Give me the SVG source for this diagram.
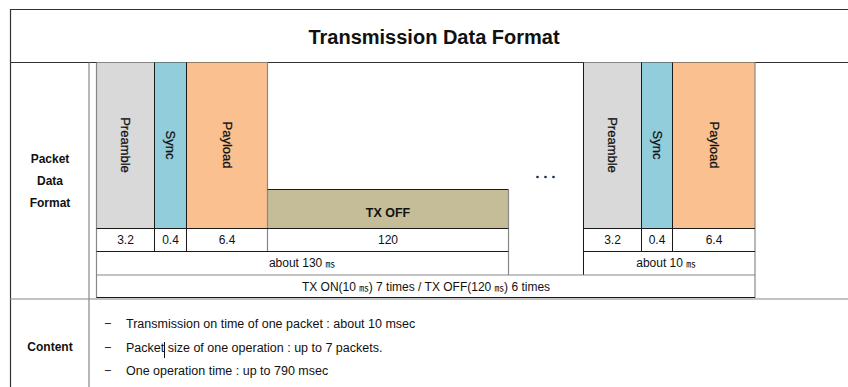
<svg xmlns="http://www.w3.org/2000/svg" width="848" height="387" viewBox="0 0 848 387">
  <style>
    text { font-family: "Liberation Sans", Arial, "Noto Sans CJK KR", sans-serif; fill: #111; }
    .title { font-size: 20px; font-weight: bold; text-anchor: middle; }
    .head { font-size: 12px; font-weight: bold; text-anchor: middle; }
    .lbl { font-size: 13px; text-anchor: middle; dominant-baseline: central; stroke: #111; stroke-width: 0.25; }
    .num { font-size: 12px; text-anchor: middle; }
    .body { font-size: 12.5px; }
    .ms { font-family: "Noto Sans CJK KR", sans-serif; font-size: 9.5px; }
    .frame { stroke: #333; stroke-width: 1.2; fill: none; }
    .grid { stroke: #888; stroke-width: 1.2; fill: none; }
    .edge { stroke: #1a1a1a; stroke-width: 1; fill: none; }
    .pre { fill: #d9d9d9; }
    .sync { fill: #92cddc; }
    .pay { fill: #fac090; }
    .off { fill: #c4bd97; }
  </style>

  <!-- outer table frame -->
  <g id="table-frame">
    <line class="frame" x1="10" y1="9.5" x2="848" y2="9.5"/>
    <line class="frame" x1="10.5" y1="9" x2="10.5" y2="387"/>
    <line class="frame" x1="10" y1="62.5" x2="848" y2="62.5"/>
    <line class="grid" x1="89" y1="62.5" x2="89" y2="387"/>
    <line class="grid" x1="10" y1="299" x2="848" y2="299"/>
  </g>

  <g id="title">
    <text class="title" x="434" y="44">Transmission Data Format</text>
  </g>

  <g id="row-head-packet">
    <text class="head" x="50" y="163">Packet</text>
    <text class="head" x="50" y="185">Data</text>
    <text class="head" x="50" y="207">Format</text>
  </g>

  <!-- first packet -->
  <g id="packet-1">
    <rect class="pre" x="97" y="62.5" width="57.5" height="166"/>
    <rect class="sync" x="154.5" y="62.5" width="32" height="166"/>
    <rect class="pay" x="186.5" y="62.5" width="81" height="166"/>
    <text class="lbl" transform="translate(125.5,145) rotate(90)">Preamble</text>
    <text class="lbl" transform="translate(170.5,145) rotate(90)">Sync</text>
    <text class="lbl" transform="translate(227,145) rotate(90)">Payload</text>
  </g>

  <g id="tx-off">
    <rect class="off" x="267.5" y="189.5" width="241" height="39"/>
    <text class="head" x="388" y="216.5" style="font-size:12.5px">TX OFF</text>
  </g>

  <!-- repeated packet -->
  <g id="packet-n">
    <rect class="pre" x="583.5" y="62.5" width="58" height="166"/>
    <rect class="sync" x="641.5" y="62.5" width="31" height="166"/>
    <rect class="pay" x="672.5" y="62.5" width="82.5" height="166"/>
    <text class="lbl" transform="translate(612.5,145) rotate(90)">Preamble</text>
    <text class="lbl" transform="translate(657,145) rotate(90)">Sync</text>
    <text class="lbl" transform="translate(714,145) rotate(90)">Payload</text>
  </g>

  <g id="ellipsis">
    <circle cx="537.5" cy="177" r="1.3" fill="#1a2a4a"/>
    <circle cx="545.5" cy="177" r="1.3" fill="#1a2a4a"/>
    <circle cx="553.5" cy="177" r="1.3" fill="#1a2a4a"/>
  </g>

  <!-- cell borders of the timing table -->
  <g id="connectors">
    <line class="grid" x1="96.5" y1="62.5" x2="96.5" y2="298"/>
    <line class="edge" x1="154.5" y1="62.5" x2="154.5" y2="251.5"/>
    <line class="edge" x1="186.5" y1="62.5" x2="186.5" y2="251.5"/>
    <line class="grid" x1="267.5" y1="62.5" x2="267.5" y2="251.5"/>
    <line class="edge" x1="267.5" y1="189.5" x2="508.5" y2="189.5"/>
    <line class="grid" x1="508.5" y1="189.5" x2="508.5" y2="275"/>
    <line class="edge" x1="96.5" y1="228.5" x2="508.5" y2="228.5"/>
    <line class="edge" x1="96.5" y1="251.5" x2="508.5" y2="251.5"/>
    <line class="edge" x1="583.5" y1="62.5" x2="583.5" y2="275"/>
    <line class="edge" x1="641.5" y1="62.5" x2="641.5" y2="251.5"/>
    <line class="edge" x1="672.5" y1="62.5" x2="672.5" y2="251.5"/>
    <line class="grid" x1="755" y1="62.5" x2="755" y2="298"/>
    <line class="edge" x1="583.5" y1="228.5" x2="755" y2="228.5"/>
    <line class="edge" x1="583.5" y1="251.5" x2="755" y2="251.5"/>
    <line class="grid" x1="96.5" y1="275" x2="755" y2="275"/>
    <line class="edge" x1="96.5" y1="297.5" x2="755" y2="297.5"/>
  </g>

  <g id="timings">
    <text class="num" x="125.5" y="244">3.2</text>
    <text class="num" x="170.5" y="244">0.4</text>
    <text class="num" x="227" y="244">6.4</text>
    <text class="num" x="388" y="244">120</text>
    <text class="num" x="612.5" y="244">3.2</text>
    <text class="num" x="657" y="244">0.4</text>
    <text class="num" x="714" y="244">6.4</text>
    <text class="num" x="302" y="267">about 130 <tspan class="ms">㎳</tspan></text>
    <text class="num" x="666" y="267">about 10 <tspan class="ms">㎳</tspan></text>
    <text class="num" x="426" y="291">TX ON(10 <tspan class="ms">㎳</tspan>) 7 times / TX OFF(120 <tspan class="ms">㎳</tspan>) 6 times</text>
  </g>

  <g id="row-head-content">
    <text class="head" x="50" y="351">Content</text>
  </g>

  <g id="content">
    <text class="body" x="104" y="328">−</text>
    <text class="body" x="126" y="328">Transmission on time of one packet : about 10 msec</text>
    <text class="body" x="104" y="352">−</text>
    <text class="body" x="126" y="352">Packet size of one operation : up to 7 packets.</text>
    <line x1="164.5" y1="342" x2="164.5" y2="358" stroke="#111" stroke-width="1"/>
    <text class="body" x="104" y="375">−</text>
    <text class="body" x="126" y="375">One operation time : up to 790 msec</text>
  </g>
</svg>
